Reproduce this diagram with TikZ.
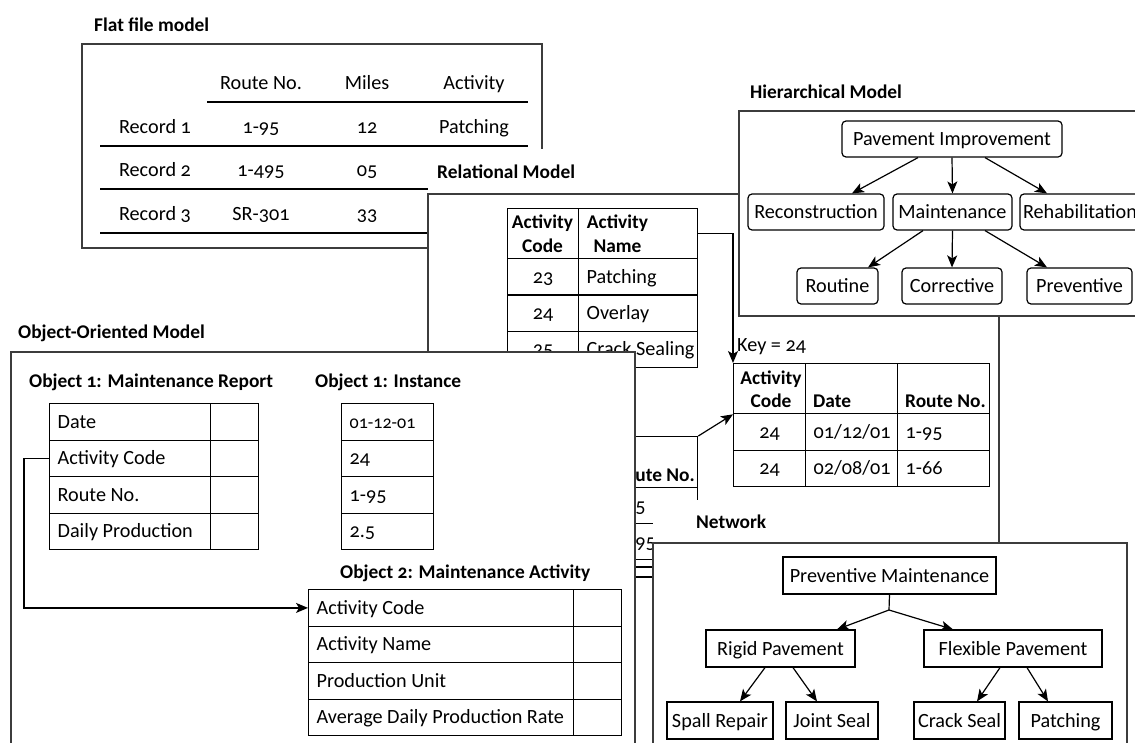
\documentclass[tikz,border=0pt]{standalone}
\usepackage{fontspec}
\setmainfont{Carlito}[Numbers=OldStyle]
\usetikzlibrary{arrows.meta,calc}
\definecolor{framec}{RGB}{60,60,60}
\newcommand\bodysize{\fontsize{20.2}{24}\selectfont}
\newcommand\boldsize{\fontsize{19.4}{24}\selectfont\bfseries}
\newcommand\lbx[2]{\makebox[#1][l]{#2}}
\tikzset{
  x=1pt, y=-1pt,
  txt/.style={inner sep=0pt, text height=13pt, text depth=0pt, font=\bodysize},
  bt/.style={txt, font=\boldsize},
  ttl/.style={bt, anchor=west},
  cell/.style={draw, line width=1.3pt, inner sep=0pt, anchor=north west, text height=13pt, text depth=0pt, font=\bodysize},
  lcell/.style={cell, inner xsep=8pt},
  panel/.style={draw=framec, line width=1.3pt},
  hbox/.style={draw, line width=1.2pt, rounded corners=4pt, inner sep=0pt, text height=13pt, text depth=0pt, font=\bodysize, fill=white, minimum height=36pt},
  nbox/.style={draw, line width=1.2pt, inner sep=0pt, text height=13pt, text depth=0pt, font=\bodysize, fill=white, minimum height=37pt},
  arr/.style={line width=1.2pt, -{Stealth[length=12pt,width=10pt,inset=3pt]}},
  rulel/.style={line width=2.4pt},
}
\begin{document}
\begin{tikzpicture}
\useasboundingbox (0,0) rectangle (1135,742);
\clip (0,0) rectangle (1135,742);
\fill[white] (0,0) rectangle (1135,742);

% ---------------- Flat file model
\node[ttl] (fft) at (94,25) {Flat file model};
\draw[panel] (82,44) rectangle (542,248);
\node[txt] (fh1) at (261,83) {Route No.};
\node[txt] (fh2) at (367,83) {Miles};
\node[txt] (fh3) at (474,83) {Activity};
\draw[rulel] (207,102) -- (528,102);
\node[txt] (fr1) at (155,127) {Record 1};
\node[txt] (fr1a) at (261,127) {1-95};
\node[txt] (fr1b) at (367,127) {12};
\node[txt] (fr1c) at (474,127) {Patching};
\draw[rulel] (100,146) -- (528,146);
\node[txt] (fr2) at (155,170) {Record 2};
\node[txt] (fr2a) at (261,170) {1-495};
\node[txt] (fr2b) at (367,170) {05};
\draw[rulel] (100,189) -- (528,189);
\node[txt] (fr3) at (155,214) {Record 3};
\node[txt] (fr3a) at (261,214) {SR-301};
\node[txt] (fr3b) at (367,214) {33};
\draw[rulel] (100,233) -- (528,233);

% ---------------- Relational model
\fill[white] (428,149) rectangle (999,760);
\draw[panel] (428,760) -- (428,194) -- (999,194) -- (999,760);
\node[ttl] (relt) at (437,172) {Relational Model};

\node[cell, minimum width=71pt, minimum height=50pt] (a11) at (507,208) {};
\node[cell, minimum width=119pt, minimum height=50pt] (a12) at (578,208) {};
\node[bt] (a11t1) at (542.5,222) {Activity};
\node[bt] (a11t2) at (542.5,246) {Code};
\node[bt] (a12t1) at (617.5,222) {Activity};
\node[bt] (a12t2) at (617.5,246) {Name};
\node[cell, minimum width=71pt, minimum height=36.3pt] (a21) at (507,258) {23};
\node[lcell, minimum height=36.3pt] (a22) at (578,258) {\lbx{103pt}{Patching}};
\node[cell, minimum width=71pt, minimum height=36.3pt] (a31) at (507,294.3) {24};
\node[lcell, minimum height=36.3pt] (a32) at (578,294.3) {\lbx{103pt}{Overlay}};
\node[cell, minimum width=71pt, minimum height=36.3pt] (a41) at (507,330.6) {25};
\node[lcell, minimum height=36.3pt] (a42) at (578,330.6) {\lbx{103pt}{Crack Sealing}};

\node[txt, anchor=west] (key) at (737,345) {Key = 24};
\node[cell, minimum width=72pt, minimum height=50pt] (k11) at (733,363) {};
\node[cell, minimum width=92pt, minimum height=50pt] (k12) at (805,363) {};
\node[cell, minimum width=92pt, minimum height=50pt] (k13) at (897,363) {};
\node[bt] (k11a) at (771,378) {Activity};
\node[bt] (k11b) at (771,401) {Code};
\node[bt, anchor=west] (k12t) at (813,401) {Date};
\node[bt, anchor=west] (k13t) at (905,401) {Route No.};
\node[cell, minimum width=72pt, minimum height=36.5pt] (k21) at (733,413) {24};
\node[lcell, minimum height=36.5pt] (k22) at (805,413) {\lbx{76pt}{01/12/01}};
\node[lcell, minimum height=36.5pt] (k23) at (897,413) {\lbx{76pt}{1-95}};
\node[cell, minimum width=72pt, minimum height=36.5pt] (k31) at (733,449.5) {24};
\node[lcell, minimum height=36.5pt] (k32) at (805,449.5) {\lbx{76pt}{02/08/01}};
\node[lcell, minimum height=36.5pt] (k33) at (897,449.5) {\lbx{76pt}{1-66}};

\draw[arr] (a12.east) -| (k11.north west);

\node[cell, minimum width=97pt, minimum height=51pt] (r1h) at (600,436) {};
\node[bt, anchor=east] (r1ht) at (695,475) {Route No.};
\node[lcell, minimum height=36pt] (r1a) at (600,487) {\lbx{81pt}{1-95}};
\node[lcell, minimum height=36pt] (r1b) at (600,523) {\lbx{81pt}{1-495}};
\draw[line width=1.3pt] (600,567) -- (697,567);
\draw[line width=1.3pt] (600,577) -- (697,577);
\draw[arr] (r1h.north east) -- (k11.south west);

% ---------------- Hierarchical model
\draw[panel, fill=white] (739,111) rectangle (1150,316);
\node[ttl] (hiert) at (750,92) {Hierarchical Model};
\node[hbox, minimum width=220pt] (pi) at (952,139) {Pavement Improvement};
\node[hbox, minimum width=136pt] (recon) at (816,212) {Reconstruction};
\node[hbox, minimum width=119pt] (maint) at (952.5,212) {Maintenance};
\node[hbox, minimum width=120pt] (rehab) at (1080,212) {Rehabilitation};
\node[hbox, minimum width=81pt] (routine) at (837.5,286) {Routine};
\node[hbox, minimum width=100pt] (corr) at (952,286) {Corrective};
\node[hbox, minimum width=105pt] (prev) at (1079.5,286) {Preventive};
\draw[arr] ($(pi.south)+(-34,0)$) -- ($(recon.north)+(36,0)$);
\draw[arr] (pi.south) -- (maint.north);
\draw[arr] ($(pi.south)+(33,0)$) -- ($(rehab.north)+(-33,0)$);
\draw[arr] ($(maint.south)+(-29.5,0)$) -- ($(routine.north)+(30.5,0)$);
\draw[arr] (maint.south) -- (corr.north);
\draw[arr] ($(maint.south)+(32.5,0)$) -- ($(prev.north)+(-32.5,0)$);

% ---------------- Object-oriented model
\draw[panel, fill=white] (11,352) rectangle (635,760);
\node[ttl] (oot) at (18,332) {Object-Oriented Model};
\node[ttl] (o1t) at (29,381) {Object 1: Maintenance Report};
\node[ttl] (o1it) at (315,381) {Object 1: Instance};
\node[ttl] (o2t) at (340,572) {Object 2: Maintenance Activity};

\node[lcell, minimum height=36.5pt] (ta1) at (49,403) {\lbx{145pt}{Date}};
\node[lcell, minimum height=36.5pt] (ta2) at (49,439.5) {\lbx{145pt}{Activity Code}};
\node[lcell, minimum height=36.5pt] (ta3) at (49,476) {\lbx{145pt}{Route No.}};
\node[lcell, minimum height=36.5pt] (ta4) at (49,512.5) {\lbx{145pt}{Daily Production}};
\node[cell, minimum width=48pt, minimum height=36.5pt] (tv1) at (210,403) {};
\node[cell, minimum width=48pt, minimum height=36.5pt] (tv2) at (210,439.5) {};
\node[cell, minimum width=48pt, minimum height=36.5pt] (tv3) at (210,476) {};
\node[cell, minimum width=48pt, minimum height=36.5pt] (tv4) at (210,512.5) {};

\node[lcell, minimum height=36.5pt] (ti1) at (341,403) {\lbx{76pt}{{\fontsize{18}{21}\selectfont 01-12-01}}};
\node[lcell, minimum height=36.5pt] (ti2) at (341,439.5) {\lbx{76pt}{24}};
\node[lcell, minimum height=36.5pt] (ti3) at (341,476) {\lbx{76pt}{1-95}};
\node[lcell, minimum height=36.5pt] (ti4) at (341,512.5) {\lbx{76pt}{2.5}};

\node[lcell, minimum height=36.5pt] (tb1) at (308,589) {\lbx{249pt}{Activity Code}};
\node[lcell, minimum height=36.5pt] (tb2) at (308,625.5) {\lbx{249pt}{Activity Name}};
\node[lcell, minimum height=36.5pt] (tb3) at (308,662) {\lbx{249pt}{Production Unit}};
\node[lcell, minimum height=36.5pt] (tb4) at (308,698.5) {\lbx{249pt}{Average Daily Production Rate}};
\node[cell, minimum width=48pt, minimum height=36.5pt] (tw1) at (573,589) {};
\node[cell, minimum width=48pt, minimum height=36.5pt] (tw2) at (573,625.5) {};
\node[cell, minimum width=48pt, minimum height=36.5pt] (tw3) at (573,662) {};
\node[cell, minimum width=48pt, minimum height=36.5pt] (tw4) at (573,698.5) {};

\draw[arr] (ta2.west) -- ++(-25,0) |- (tb1.west);

% ---------------- Network
\fill[white] (653,500) rectangle (900,543);
\draw[panel, fill=white] (653,543) rectangle (1127,760);
\node[ttl] (nett) at (696,522) {Network};
\node[nbox, minimum width=213pt] (pm) at (889.5,575.5) {Preventive Maintenance};
\coordinate (jn) at (889,610);
\node[nbox, minimum width=149pt] (rigid) at (780.5,648.5) {Rigid Pavement};
\node[nbox, minimum width=178pt] (flex) at (1013,648.5) {Flexible Pavement};
\node[nbox, minimum width=106pt] (spall) at (720,720.5) {Spall Repair};
\node[nbox, minimum width=92pt] (joint) at (832,720.5) {Joint Seal};
\node[nbox, minimum width=91pt] (crack) at (959.5,720.5) {Crack Seal};
\node[nbox, minimum width=93pt] (patch) at (1065.5,720.5) {Patching};
\draw[line width=1.2pt] (pm.south) -- (jn);
\draw[arr] (jn) -- ($(rigid.north)+(56.5,0)$);
\draw[arr] (jn) -- ($(flex.north)+(-60,0)$);
\draw[arr] ($(rigid.south)+(-15.5,0)$) -- ($(spall.north)+(20,0)$);
\draw[arr] ($(rigid.south)+(12.5,0)$) -- ($(joint.north)+(-15,0)$);
\draw[arr] ($(flex.south)+(-13,0)$) -- ($(crack.north)+(17.5,0)$);
\draw[arr] ($(flex.south)+(14,0)$) -- ($(patch.north)+(-17.5,0)$);
\end{tikzpicture}
\end{document}
